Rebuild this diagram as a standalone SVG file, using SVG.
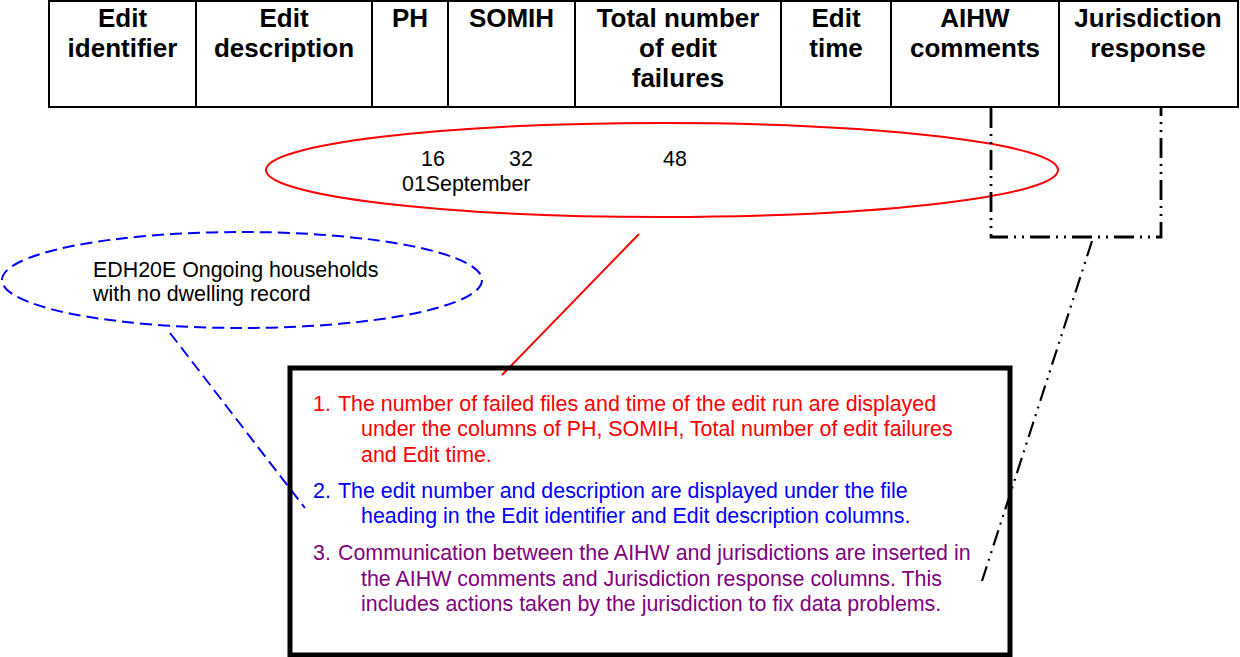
<svg xmlns="http://www.w3.org/2000/svg" width="1240" height="657" viewBox="0 0 1240 657">
<style>
  .hdr { font-family: "Liberation Sans", Arial, sans-serif; font-weight: bold; font-size: 26px; fill: #000; text-anchor: middle; }
  .cell { fill: none; stroke: #000; stroke-width: 2; }
  .txt { font-family: "Liberation Sans", Arial, sans-serif; font-size: 21.4px; }
  .blk { fill: #000; }
  .red { fill: #FF0000; }
  .blue { fill: #0000FF; }
  .purple { fill: #800080; }
  .dashdot { fill: none; stroke: #000; stroke-width: 2.8; stroke-dasharray: 20 6 2 6 2 6; }
</style>
<rect width="1240" height="657" fill="#fff"/>

<g id="table-header">
  <rect class="cell" x="49" y="1" width="1189" height="106"/>
  <line class="cell" x1="196" y1="1" x2="196" y2="107"/>
  <line class="cell" x1="372" y1="1" x2="372" y2="107"/>
  <line class="cell" x1="448" y1="1" x2="448" y2="107"/>
  <line class="cell" x1="575" y1="1" x2="575" y2="107"/>
  <line class="cell" x1="781" y1="1" x2="781" y2="107"/>
  <line class="cell" x1="891" y1="1" x2="891" y2="107"/>
  <line class="cell" x1="1059" y1="1" x2="1059" y2="107"/>
  <text class="hdr" x="122.5" y="27">Edit<tspan x="122.5" y="57">identifier</tspan></text>
  <text class="hdr" x="284" y="27">Edit<tspan x="284" y="57">description</tspan></text>
  <text class="hdr" x="410" y="27">PH</text>
  <text class="hdr" x="511.5" y="27">SOMIH</text>
  <text class="hdr" x="678" y="27">Total number<tspan x="678" y="57">of edit</tspan><tspan x="678" y="87">failures</tspan></text>
  <text class="hdr" x="836" y="27">Edit<tspan x="836" y="57">time</tspan></text>
  <text class="hdr" x="975" y="27">AIHW<tspan x="975" y="57">comments</tspan></text>
  <text class="hdr" x="1148" y="27">Jurisdiction<tspan x="1148" y="57">response</tspan></text>
</g>

<g id="red-ellipse">
  <ellipse cx="662" cy="170" rx="396" ry="47" fill="none" stroke="#FF0000" stroke-width="2"/>
  <text class="txt blk" x="421" y="166">16</text>
  <text class="txt blk" x="509" y="166">32</text>
  <text class="txt blk" x="663" y="166">48</text>
  <text class="txt blk" x="402" y="191">01September</text>
</g>

<g id="comment-bracket">
  <path class="dashdot" d="M991,108 L991,237 L1161,237 L1161,108"/>
</g>

<g id="blue-ellipse">
  <ellipse cx="242" cy="280" rx="240" ry="48" fill="none" stroke="#0000FF" stroke-width="2" stroke-dasharray="12 6"/>
  <text class="txt blk" x="93" y="277">EDH20E Ongoing households</text>
  <text class="txt blk" x="93" y="301">with no dwelling record</text>
</g>

<g id="connectors">
  <line x1="639" y1="234" x2="502" y2="375" stroke="#FF0000" stroke-width="2"/>
  <line x1="170" y1="333" x2="305" y2="508" stroke="#0000FF" stroke-width="2" stroke-dasharray="12 6"/>
  <line x1="1092" y1="241" x2="982" y2="581" stroke="#000" stroke-width="2.2" stroke-dasharray="16 6 2 6 2 6"/>
</g>

<g id="notes-box">
  <rect x="290" y="368" width="720" height="287" fill="none" stroke="#000" stroke-width="5"/>
  <text class="txt red" x="313" y="411">1.</text>
  <text class="txt red" x="338" y="411">The number of failed files and time of the edit run are displayed</text>
  <text class="txt red" x="361" y="436">under the columns of PH, SOMIH, Total number of edit failures</text>
  <text class="txt red" x="361" y="462">and Edit time.</text>
  <text class="txt blue" x="313" y="498">2.</text>
  <text class="txt blue" x="338" y="498">The edit number and description are displayed under the file</text>
  <text class="txt blue" x="361" y="523">heading in the Edit identifier and Edit description columns.</text>
  <text class="txt purple" x="313" y="560">3.</text>
  <text class="txt purple" x="338" y="560">Communication between the AIHW and jurisdictions are inserted in</text>
  <text class="txt purple" x="361" y="586">the AIHW comments and Jurisdiction response columns. This</text>
  <text class="txt purple" x="361" y="611">includes actions taken by the jurisdiction to fix data problems.</text>
</g>
</svg>
